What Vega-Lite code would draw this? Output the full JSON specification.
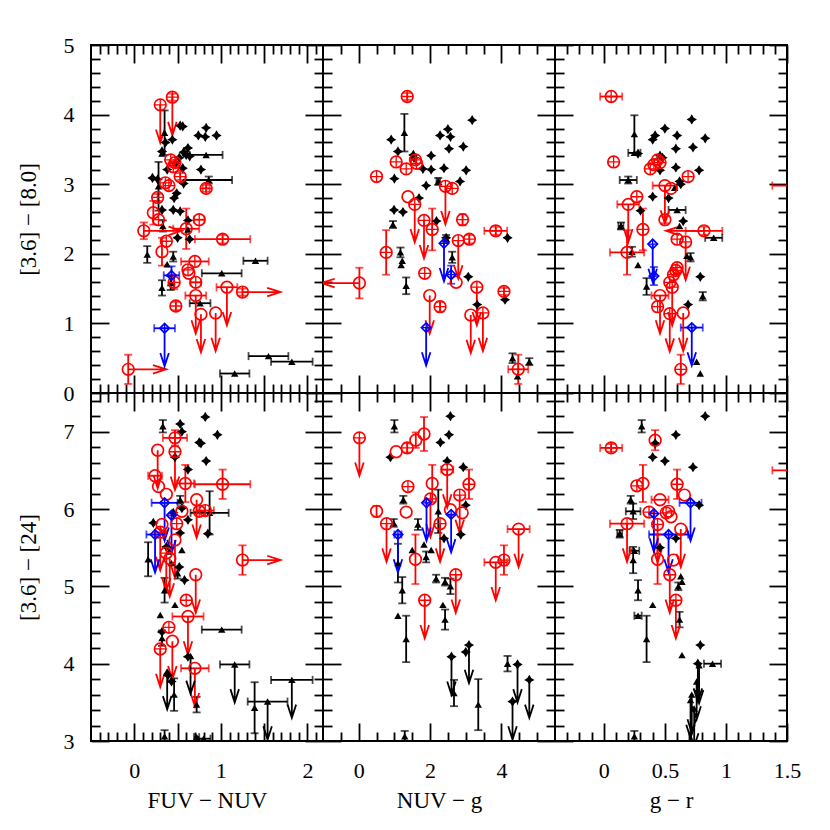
{
"$schema": "https://vega.github.io/schema/vega-lite/v6.json",
"padding": {"left": 16, "top": 33, "right": 10, "bottom": 10},
"background": "white",
"datasets": {
"p1": [
{"x":0.30,"y":4.14,"t":"rp","a":"d"},{"x":0.44,"y":4.25,"ey":0.05,"t":"rp","a":"d"},{"x":0.42,"y":3.35,"t":"rp"},{"x":0.47,"y":3.31,"t":"rp"},{"x":0.45,"y":3.25,"t":"rp"},{"x":0.53,"y":3.11,"ey":0.05,"t":"rp"},{"x":0.36,"y":3.02,"t":"rp"},{"x":0.40,"y":2.98,"t":"rp"},{"x":0.83,"y":2.94,"ex":0.04,"ey":0.05,"t":"rp"},{"x":0.27,"y":2.81,"ey":0.05,"t":"rp"},{"x":0.22,"y":2.59,"ey":0.17,"t":"r"},{"x":0.28,"y":2.49,"t":"rp"},{"x":0.75,"y":2.49,"ex":0.06,"t":"rp"},{"x":0.11,"y":2.33,"ey":0.12,"t":"r","a":"r"},{"x":0.60,"y":2.36,"ex":0.15,"ey":0.29,"t":"r"},{"x":1.02,"y":2.21,"ex":0.32,"ey":0.06,"t":"rp"},{"x":0.37,"y":2.18,"t":"rp"},{"x":0.32,"y":2.03,"ey":0.2,"t":"r"},{"x":0.70,"y":1.89,"ex":0.16,"t":"rp"},{"x":0.62,"y":1.77,"t":"rp"},{"x":0.63,"y":1.72,"t":"r"},{"x":0.46,"y":1.59,"ey":0.1,"t":"rp"},{"x":0.71,"y":1.59,"ex":0.06,"t":"rp"},{"x":1.07,"y":1.52,"ex":0.12,"t":"r","a":"d"},{"x":1.25,"y":1.45,"ey":0.05,"t":"rp","a":"r"},{"x":0.71,"y":1.40,"ex":0.12,"t":"r","a":"d"},{"x":0.48,"y":1.25,"ey":0.06,"t":"rp"},{"x":0.77,"y":1.13,"t":"r","a":"d"},{"x":0.94,"y":1.15,"t":"r","a":"d"},{"x":-0.07,"y":0.34,"ey":0.21,"t":"r","a":"r"},
{"x":0.43,"y":1.69,"ex":0.09,"ey":0.13,"t":"b"},{"x":0.35,"y":0.93,"ex":0.12,"t":"b","a":"d"},
{"x":0.53,"y":3.84,"t":"s"},{"x":0.56,"y":3.83,"t":"s"},{"x":0.83,"y":3.81,"t":"s"},{"x":0.74,"y":3.70,"t":"s"},{"x":0.82,"y":3.68,"t":"s"},{"x":0.95,"y":3.70,"t":"s"},{"x":0.44,"y":3.64,"t":"s"},{"x":0.32,"y":3.47,"t":"s"},{"x":0.62,"y":3.52,"t":"s"},{"x":0.57,"y":3.46,"t":"s"},{"x":0.64,"y":3.40,"t":"s"},{"x":0.52,"y":3.38,"t":"s"},{"x":0.38,"y":3.21,"t":"s"},{"x":0.56,"y":3.23,"t":"s"},{"x":0.77,"y":3.21,"t":"s"},{"x":0.21,"y":3.09,"t":"s"},{"x":0.27,"y":3.07,"t":"s"},{"x":0.57,"y":3.01,"t":"s"},{"x":0.49,"y":2.87,"t":"s"},{"x":0.46,"y":2.80,"t":"s"},{"x":0.32,"y":2.63,"t":"s"},{"x":0.45,"y":2.63,"t":"s"},{"x":0.53,"y":2.61,"t":"s"},{"x":0.62,"y":2.48,"t":"s"},{"x":0.50,"y":2.23,"t":"s"},{"x":0.64,"y":2.21,"t":"s"},{"x":0.60,"y":3.42,"t":"s"},{"x":0.48,"y":3.30,"t":"s"},{"x":0.36,"y":3.60,"t":"s"},
{"x":0.35,"y":3.74,"ey":0.32,"t":"t"},{"x":0.32,"y":3.44,"t":"t"},{"x":0.83,"y":3.42,"ex":0.19,"t":"t"},{"x":0.28,"y":2.97,"ey":0.35,"t":"t"},{"x":0.86,"y":3.06,"ex":0.27,"ey":0.05,"t":"t"},{"x":0.33,"y":2.40,"ey":0.08,"t":"t"},{"x":0.15,"y":1.99,"ey":0.12,"t":"t"},{"x":0.45,"y":1.96,"ey":0.07,"t":"t"},{"x":0.42,"y":1.58,"ey":0.1,"t":"t"},{"x":1.01,"y":1.72,"ex":0.23,"t":"t"},{"x":1.40,"y":1.90,"ex":0.14,"t":"t"},{"x":0.32,"y":1.51,"ey":0.11,"t":"t"},{"x":0.76,"y":1.29,"ex":0.12,"t":"t"},{"x":1.55,"y":0.53,"ex":0.23,"t":"t"},{"x":1.82,"y":0.45,"ex":0.24,"t":"t"},{"x":1.16,"y":0.28,"ex":0.17,"t":"t"},{"x":0.38,"y":1.85,"t":"t"},{"x":0.62,"y":2.35,"t":"t"}
],
"p2": [
{"x":1.36,"y":4.26,"ey":0.05,"t":"rp"},{"x":1.05,"y":3.32,"t":"rp"},{"x":1.33,"y":3.22,"t":"rp"},{"x":1.59,"y":3.35,"t":"rp"},{"x":1.62,"y":3.30,"t":"rp"},{"x":0.50,"y":3.11,"t":"rp"},{"x":2.43,"y":2.97,"t":"rp","a":"d"},{"x":2.62,"y":2.94,"t":"rp"},{"x":1.38,"y":2.82,"t":"r"},{"x":1.57,"y":2.71,"t":"rp","a":"d"},{"x":1.83,"y":2.48,"t":"rp","a":"d"},{"x":2.06,"y":2.35,"ey":0.3,"t":"rp"},{"x":2.91,"y":2.49,"ey":0.08,"t":"rp"},{"x":3.84,"y":2.33,"ex":0.32,"ey":0.06,"t":"rp"},{"x":2.79,"y":2.19,"t":"rp","a":"d"},{"x":3.10,"y":2.21,"ey":0.06,"t":"rp"},{"x":0.77,"y":2.02,"ey":0.32,"t":"rp"},{"x":0.02,"y":1.58,"ey":0.22,"t":"r","a":"l"},{"x":1.85,"y":1.72,"t":"rp"},{"x":2.73,"y":1.59,"t":"r"},{"x":3.31,"y":1.52,"t":"rp","a":"d"},{"x":1.99,"y":1.40,"t":"r","a":"d"},{"x":2.28,"y":1.24,"ey":0.07,"t":"rp"},{"x":3.14,"y":1.12,"t":"r","a":"d"},{"x":3.48,"y":1.15,"t":"rp","a":"d"},{"x":4.07,"y":1.46,"ey":0.05,"t":"rp"},{"x":4.47,"y":0.34,"ex":0.28,"ey":0.21,"t":"rp"},
{"x":2.39,"y":2.15,"t":"b","a":"d"},{"x":2.59,"y":1.70,"ey":0.13,"t":"b"},{"x":1.89,"y":0.94,"t":"b","a":"d"},
{"x":3.18,"y":3.92,"t":"s"},{"x":2.50,"y":3.79,"t":"s"},{"x":2.28,"y":3.70,"t":"s"},{"x":2.57,"y":3.68,"t":"s"},{"x":2.53,"y":3.51,"t":"s"},{"x":2.93,"y":3.54,"t":"s"},{"x":0.91,"y":3.64,"t":"s"},{"x":1.10,"y":3.47,"t":"s"},{"x":1.53,"y":3.42,"t":"s"},{"x":2.03,"y":3.41,"t":"s"},{"x":1.80,"y":3.22,"t":"s"},{"x":2.03,"y":3.21,"t":"s"},{"x":2.39,"y":3.23,"t":"s"},{"x":3.01,"y":3.20,"t":"s"},{"x":2.84,"y":3.04,"t":"s"},{"x":1.89,"y":2.98,"t":"s"},{"x":1.00,"y":3.08,"t":"s"},{"x":1.69,"y":2.80,"t":"s"},{"x":0.99,"y":2.63,"t":"s"},{"x":1.24,"y":2.60,"t":"s"},{"x":2.18,"y":2.47,"t":"s"},{"x":4.17,"y":2.23,"t":"s"},{"x":2.45,"y":2.23,"t":"s"},{"x":3.07,"y":1.67,"t":"s"},{"x":3.32,"y":1.27,"t":"s"},{"x":4.10,"y":1.34,"t":"s"},{"x":1.55,"y":3.38,"t":"s"},
{"x":1.28,"y":3.74,"ey":0.27,"t":"t"},{"x":2.23,"y":3.04,"ex":0.05,"ey":0.05,"t":"t"},{"x":0.96,"y":2.42,"ey":0.05,"t":"t"},{"x":1.17,"y":2.02,"ey":0.07,"t":"t"},{"x":1.19,"y":1.84,"t":"t"},{"x":1.22,"y":1.90,"t":"t"},{"x":1.33,"y":1.54,"ey":0.12,"t":"t"},{"x":2.62,"y":1.95,"ey":0.08,"t":"t"},{"x":2.45,"y":2.22,"ey":0.05,"t":"t"},{"x":4.31,"y":0.50,"ey":0.07,"t":"t"},{"x":4.78,"y":0.45,"ey":0.05,"t":"t"},{"x":4.45,"y":0.24,"t":"t"}
],
"p3": [
{"x":0.06,"y":4.26,"ex":0.09,"t":"rp"},{"x":0.08,"y":3.32,"t":"rp"},{"x":0.44,"y":3.35,"t":"rp"},{"x":0.41,"y":3.28,"t":"rp"},{"x":0.38,"y":3.22,"t":"rp"},{"x":0.46,"y":3.31,"t":"rp"},{"x":0.69,"y":3.11,"t":"rp"},{"x":0.50,"y":2.98,"ex":0.1,"t":"r","a":"d"},{"x":0.55,"y":2.94,"t":"r"},{"x":0.27,"y":2.82,"t":"rp"},{"x":0.20,"y":2.71,"ex":0.09,"t":"r","a":"d"},{"x":0.50,"y":2.49,"ey":0.05,"t":"r"},{"x":0.32,"y":2.35,"ey":0.3,"t":"rp"},{"x":0.82,"y":2.33,"ex":0.15,"ey":0.06,"t":"r","a":"l"},{"x":0.60,"y":2.21,"t":"rp"},{"x":0.67,"y":2.17,"t":"rp","a":"d"},{"x":0.19,"y":2.02,"ex":0.14,"ey":0.32,"t":"r"},{"x":0.59,"y":1.76,"t":"rp"},{"x":0.57,"y":1.70,"t":"rp"},{"x":0.60,"y":1.80,"t":"rp"},{"x":0.54,"y":1.59,"t":"rp"},{"x":0.56,"y":1.52,"t":"rp","a":"d"},{"x":0.46,"y":1.40,"ex":0.07,"t":"r","a":"d"},{"x":0.44,"y":1.24,"t":"rp"},{"x":0.54,"y":1.14,"t":"rp","a":"d"},{"x":0.65,"y":1.15,"t":"r","a":"d"},{"x":0.63,"y":0.34,"ey":0.21,"t":"rp"},{"x":1.62,"y":2.98,"ex":0.24,"t":"r"},
{"x":0.40,"y":2.14,"t":"b","a":"d"},{"x":0.41,"y":1.68,"ey":0.13,"t":"b"},{"x":0.72,"y":0.94,"ex":0.09,"t":"b","a":"d"},
{"x":0.72,"y":3.93,"t":"s"},{"x":0.50,"y":3.80,"t":"s"},{"x":0.60,"y":3.70,"t":"s"},{"x":0.83,"y":3.66,"t":"s"},{"x":0.42,"y":3.70,"t":"s"},{"x":0.40,"y":3.64,"t":"s"},{"x":0.59,"y":3.51,"t":"s"},{"x":0.73,"y":3.53,"t":"s"},{"x":0.46,"y":3.41,"t":"s"},{"x":0.28,"y":3.44,"t":"s"},{"x":0.59,"y":3.24,"t":"s"},{"x":0.46,"y":3.20,"t":"s"},{"x":0.78,"y":3.20,"t":"s"},{"x":0.62,"y":3.04,"t":"s"},{"x":0.40,"y":2.82,"t":"s"},{"x":0.53,"y":2.80,"t":"s"},{"x":0.30,"y":2.62,"t":"s"},{"x":0.65,"y":2.47,"t":"s"},{"x":0.79,"y":1.67,"t":"s"},{"x":0.69,"y":1.27,"t":"s"},{"x":0.63,"y":3.00,"t":"s"},{"x":0.48,"y":3.38,"t":"s"},
{"x":0.25,"y":3.72,"ey":0.27,"t":"t"},{"x":0.25,"y":3.45,"ex":0.05,"t":"t"},{"x":0.20,"y":3.06,"ex":0.07,"ey":0.05,"t":"t"},{"x":0.60,"y":2.63,"ex":0.07,"t":"t"},{"x":0.90,"y":2.23,"ex":0.07,"t":"t"},{"x":0.14,"y":2.40,"ex":0.02,"ey":0.05,"t":"t"},{"x":0.23,"y":2.03,"ey":0.07,"t":"t"},{"x":0.28,"y":1.84,"t":"t"},{"x":0.71,"y":1.95,"ey":0.06,"t":"t"},{"x":0.68,"y":1.97,"t":"t"},{"x":0.35,"y":1.53,"ey":0.12,"t":"t"},{"x":0.81,"y":1.39,"ey":0.06,"t":"t"},{"x":0.76,"y":0.45,"t":"t"},{"x":0.79,"y":0.28,"t":"t"},{"x":0.62,"y":2.40,"t":"t"},{"x":0.58,"y":2.95,"t":"t"}
],
"p4": [
{"x":0.47,"y":6.92,"ex":0.14,"ey":0.1,"t":"rp"},{"x":0.27,"y":6.76,"t":"r","a":"d"},{"x":0.47,"y":6.74,"t":"rp","a":"d"},{"x":0.24,"y":6.43,"ex":0.08,"t":"r"},{"x":0.28,"y":6.29,"t":"r"},{"x":0.59,"y":6.33,"ex":0.1,"ey":0.24,"t":"r"},{"x":1.02,"y":6.32,"ex":0.32,"ey":0.19,"t":"rp"},{"x":0.37,"y":6.19,"t":"r"},{"x":0.72,"y":6.12,"t":"r","a":"d"},{"x":0.55,"y":5.97,"t":"r"},{"x":0.75,"y":5.97,"t":"rp"},{"x":0.82,"y":5.98,"ex":0.1,"t":"rp"},{"x":0.32,"y":5.80,"t":"r"},{"x":0.49,"y":5.81,"t":"rp"},{"x":0.37,"y":5.43,"t":"rp","a":"d"},{"x":0.41,"y":5.36,"t":"r","a":"d"},{"x":0.30,"y":5.70,"t":"rp","a":"d"},{"x":1.25,"y":5.34,"ey":0.19,"t":"r","a":"r"},{"x":0.71,"y":5.15,"t":"r","a":"d"},{"x":0.60,"y":4.82,"t":"rp"},{"x":0.62,"y":4.61,"ex":0.18,"t":"r","a":"d"},{"x":0.40,"y":4.47,"t":"rp"},{"x":0.44,"y":4.29,"t":"r","a":"d"},{"x":0.30,"y":4.19,"t":"rp","a":"d"},{"x":0.70,"y":3.94,"ex":0.16,"t":"r","a":"d"},{"x":0.47,"y":5.60,"t":"r","a":"d"},
{"x":0.35,"y":6.08,"ex":0.15,"t":"b","a":"d"},{"x":0.43,"y":5.92,"t":"b","a":"d"},{"x":0.24,"y":5.67,"ex":0.1,"t":"b","a":"d"},
{"x":0.82,"y":7.19,"t":"s"},{"x":0.53,"y":7.10,"t":"s"},{"x":0.55,"y":7.00,"t":"s"},{"x":0.96,"y":6.96,"t":"s"},{"x":0.75,"y":6.86,"t":"s"},{"x":0.77,"y":6.85,"t":"s"},{"x":0.47,"y":6.67,"t":"s"},{"x":0.83,"y":6.62,"t":"s"},{"x":0.62,"y":6.51,"t":"s"},{"x":0.55,"y":6.01,"t":"s"},{"x":0.62,"y":5.86,"t":"s"},{"x":0.22,"y":5.82,"t":"s"},{"x":0.53,"y":5.69,"t":"s"},{"x":0.85,"y":5.68,"t":"s"},{"x":0.37,"y":5.51,"t":"s"},{"x":0.58,"y":5.08,"t":"s"},{"x":0.32,"y":4.41,"t":"s"},{"x":0.62,"y":4.09,"t":"s"},{"x":0.39,"y":3.85,"t":"s"},{"x":0.43,"y":3.77,"t":"s"},{"x":0.45,"y":5.95,"t":"s"},{"x":0.52,"y":5.25,"t":"s"},
{"x":0.33,"y":7.07,"ey":0.08,"t":"t"},{"x":0.53,"y":6.12,"ey":0.05,"t":"t"},{"x":0.87,"y":5.95,"ex":0.22,"ey":0.28,"t":"t"},{"x":0.16,"y":5.35,"ey":0.22,"t":"t"},{"x":0.55,"y":5.47,"t":"t"},{"x":0.50,"y":5.17,"ey":0.07,"t":"t"},{"x":0.35,"y":4.95,"ey":0.16,"t":"t"},{"x":0.47,"y":4.76,"t":"t"},{"x":0.30,"y":4.63,"t":"t"},{"x":0.32,"y":4.33,"ey":0.1,"t":"t"},{"x":1.01,"y":4.44,"ex":0.23,"t":"t"},{"x":1.16,"y":3.99,"ex":0.17,"t":"t","a":"d"},{"x":1.82,"y":3.79,"ex":0.24,"t":"t","a":"d"},{"x":1.39,"y":3.43,"ey":0.33,"t":"t"},{"x":1.54,"y":3.51,"ex":0.23,"t":"t","a":"d"},{"x":0.46,"y":3.60,"ey":0.21,"t":"t"},{"x":0.35,"y":3.06,"ey":0.08,"t":"t"},{"x":0.72,"y":3.47,"ey":0.1,"t":"t"},{"x":0.72,"y":3.05,"ex":0.03,"t":"t"},{"x":0.80,"y":3.03,"ex":0.08,"t":"t"},{"x":0.40,"y":5.45,"t":"t"},{"x":0.43,"y":5.30,"t":"t"},{"x":0.38,"y":3.90,"t":"t","a":"d"},{"x":0.65,"y":4.10,"t":"t","a":"d"}
],
"p5": [
{"x":0.02,"y":6.92,"t":"rp","a":"d"},{"x":1.05,"y":6.74,"t":"r"},{"x":1.36,"y":6.79,"ey":0.06,"t":"rp"},{"x":1.60,"y":6.89,"ey":0.1,"t":"r"},{"x":1.83,"y":6.97,"ey":0.22,"t":"r"},{"x":2.48,"y":6.51,"ex":0.17,"t":"rp","a":"d"},{"x":1.38,"y":6.29,"t":"rp"},{"x":2.06,"y":6.33,"ey":0.24,"t":"r"},{"x":3.09,"y":6.32,"ey":0.19,"t":"rp"},{"x":2.83,"y":6.18,"t":"rp","a":"d"},{"x":2.01,"y":6.13,"t":"rp","a":"d"},{"x":1.33,"y":5.96,"t":"r"},{"x":0.50,"y":5.97,"ey":0.07,"t":"r"},{"x":2.57,"y":5.99,"t":"r"},{"x":2.90,"y":5.95,"t":"r"},{"x":0.78,"y":5.81,"t":"rp","a":"d"},{"x":2.28,"y":5.81,"t":"rp","a":"d"},{"x":4.48,"y":5.74,"ex":0.31,"t":"r","a":"d"},{"x":1.59,"y":5.35,"ey":0.32,"t":"r"},{"x":3.84,"y":5.31,"ex":0.32,"t":"r","a":"d"},{"x":4.07,"y":5.34,"ey":0.19,"t":"rp"},{"x":2.72,"y":5.15,"t":"rp","a":"d"},{"x":1.85,"y":4.82,"t":"rp","a":"d"},
{"x":1.90,"y":6.08,"t":"b","a":"d"},{"x":2.59,"y":5.93,"t":"b","a":"d"},{"x":1.10,"y":5.67,"ex":0.1,"t":"b","a":"d"},
{"x":2.57,"y":7.20,"t":"s"},{"x":2.53,"y":6.96,"t":"s"},{"x":2.29,"y":6.86,"t":"s"},{"x":0.89,"y":6.67,"t":"s"},{"x":2.48,"y":6.62,"t":"s"},{"x":2.93,"y":6.54,"t":"s"},{"x":3.00,"y":6.05,"t":"s"},{"x":2.86,"y":5.67,"t":"s"},{"x":2.39,"y":5.62,"t":"s"},{"x":2.60,"y":4.09,"t":"s","a":"d"},{"x":3.09,"y":4.24,"t":"s","a":"d"},{"x":4.45,"y":3.99,"t":"s","a":"d"},{"x":4.78,"y":3.79,"t":"s","a":"d"},{"x":4.31,"y":3.51,"t":"s","a":"d"},{"x":3.00,"y":4.15,"t":"s"},
{"x":1.00,"y":7.07,"ey":0.08,"t":"t"},{"x":1.25,"y":6.12,"ey":0.05,"t":"t"},{"x":0.98,"y":5.82,"ey":0.05,"t":"t"},{"x":1.66,"y":5.80,"ey":0.07,"t":"t"},{"x":2.23,"y":5.97,"ey":0.28,"t":"t"},{"x":1.50,"y":5.47,"t":"t"},{"x":1.83,"y":5.54,"t":"t"},{"x":2.03,"y":5.47,"t":"t"},{"x":1.89,"y":5.38,"ey":0.07,"t":"t"},{"x":1.22,"y":4.95,"ey":0.17,"t":"t"},{"x":2.17,"y":5.10,"ey":0.05,"t":"t"},{"x":2.42,"y":5.06,"ey":0.05,"t":"t"},{"x":2.57,"y":5.00,"ey":0.1,"t":"t"},{"x":2.36,"y":4.76,"t":"t"},{"x":2.42,"y":4.57,"ey":0.13,"t":"t"},{"x":1.10,"y":4.62,"t":"t"},{"x":1.33,"y":4.32,"ey":0.3,"t":"t"},{"x":4.17,"y":4.00,"ey":0.1,"t":"t"},{"x":2.67,"y":3.62,"ey":0.17,"t":"t"},{"x":3.35,"y":3.47,"ey":0.33,"t":"t"},{"x":1.29,"y":3.06,"ey":0.07,"t":"t"},{"x":1.10,"y":5.30,"ey":0.25,"t":"t"}
],
"p6": [
{"x":0.06,"y":6.79,"ex":0.09,"ey":0.05,"t":"rp"},{"x":0.42,"y":6.89,"ey":0.13,"t":"r"},{"x":0.32,"y":6.33,"ey":0.24,"t":"r"},{"x":0.27,"y":6.30,"t":"rp"},{"x":0.60,"y":6.32,"ey":0.19,"t":"rp"},{"x":0.66,"y":6.18,"t":"r"},{"x":0.46,"y":6.12,"ex":0.07,"t":"r"},{"x":0.53,"y":5.97,"t":"r"},{"x":0.51,"y":5.95,"t":"rp"},{"x":0.55,"y":5.90,"t":"r"},{"x":0.37,"y":5.96,"t":"rp"},{"x":0.19,"y":5.81,"ex":0.14,"t":"rp","a":"d"},{"x":0.44,"y":5.80,"t":"rp","a":"d"},{"x":0.63,"y":5.74,"t":"r","a":"d"},{"x":0.44,"y":5.35,"ey":0.32,"t":"r"},{"x":0.57,"y":5.34,"t":"r"},{"x":0.54,"y":5.15,"t":"rp","a":"d"},{"x":0.59,"y":4.82,"t":"rp","a":"d"},{"x":1.62,"y":6.50,"ex":0.24,"t":"r"},
{"x":0.41,"y":5.94,"t":"b","a":"d"},{"x":0.71,"y":6.08,"ex":0.09,"t":"b","a":"d"},{"x":0.53,"y":5.67,"ex":0.16,"t":"b","a":"d"},
{"x":0.83,"y":7.20,"t":"s"},{"x":0.59,"y":6.96,"t":"s"},{"x":0.40,"y":6.67,"t":"s"},{"x":0.50,"y":6.62,"t":"s"},{"x":0.73,"y":6.54,"t":"s"},{"x":0.78,"y":6.05,"t":"s"},{"x":0.59,"y":5.62,"t":"s"},{"x":0.79,"y":4.24,"t":"s"},{"x":0.77,"y":4.00,"t":"s","a":"d"},{"x":0.42,"y":6.85,"t":"s"},{"x":0.46,"y":5.50,"t":"s"},
{"x":0.31,"y":7.07,"ey":0.08,"t":"t"},{"x":0.22,"y":6.12,"ey":0.05,"t":"t"},{"x":0.24,"y":5.97,"ex":0.06,"ey":0.1,"t":"t"},{"x":0.13,"y":5.68,"ex":0.02,"ey":0.05,"t":"t"},{"x":0.25,"y":5.46,"ex":0.04,"t":"t"},{"x":0.24,"y":5.34,"ey":0.17,"t":"t"},{"x":0.28,"y":4.95,"ey":0.13,"t":"t"},{"x":0.28,"y":4.62,"ex":0.03,"t":"t"},{"x":0.40,"y":4.76,"t":"t"},{"x":0.63,"y":5.13,"t":"t"},{"x":0.64,"y":5.06,"t":"t"},{"x":0.61,"y":5.00,"ey":0.05,"t":"t"},{"x":0.62,"y":4.57,"ey":0.1,"t":"t"},{"x":0.35,"y":4.32,"ey":0.3,"t":"t"},{"x":0.64,"y":4.11,"t":"t"},{"x":0.89,"y":4.00,"ex":0.07,"t":"t"},{"x":0.78,"y":3.98,"t":"t","a":"d"},{"x":0.76,"y":3.77,"t":"t","a":"d"},{"x":0.71,"y":3.53,"t":"t","a":"d"},{"x":0.74,"y":3.42,"t":"t","a":"d"},{"x":0.72,"y":3.60,"t":"t","a":"d"},{"x":0.25,"y":3.06,"ey":0.07,"t":"t"}
]
},
"columns": 3,
"spacing": 0,
"bounds": "flush",
"concat": [
{"width":232,"height":348,"data":{"name":"p1"},
 "encoding":{"x":{"field":"x","type":"quantitative","scale":{"domain":[-0.5,2.18],"nice":false,"zero":false},"axis":null},"y":{"field":"y","type":"quantitative","scale":{"domain":[0,5],"nice":false,"zero":false},"axis":null}},
 "layer":[
  {"mark":{"type":"point","opacity":0},"encoding":{"x":{"field":"x","type":"quantitative","scale":{"domain":[-0.5,2.18],"nice":false,"zero":false},"axis":{"orient":"bottom","values":[0,0.5,1,1.5,2],"tickSize":-18,"labels":false,"title":null}},"y":{"field":"y","type":"quantitative","scale":{"domain":[0,5],"nice":false,"zero":false},"axis":{"orient":"left","values":[0,1,2,3,4,5],"tickSize":-18,"labelPadding":35,"format":"~g","title":"[3.6] − [8.0]","titlePadding":23}}}},
  {"mark":{"type":"point","opacity":0},"encoding":{"x":{"field":"x","type":"quantitative","scale":{"domain":[-0.5,2.18],"nice":false,"zero":false},"axis":{"orient":"bottom","values":[-0.4,-0.3,-0.2,-0.1,0.1,0.2,0.3,0.4,0.6,0.7,0.8,0.9,1.1,1.2,1.3,1.4,1.6,1.7,1.8,1.9,2.1],"tickSize":-9,"labels":false,"title":null}},"y":{"field":"y","type":"quantitative","scale":{"domain":[0,5],"nice":false,"zero":false},"axis":{"orient":"left","values":[0.2,0.4,0.6,0.8,1.2,1.4,1.6,1.8,2.2,2.4,2.6,2.8,3.2,3.4,3.6,3.8,4.2,4.4,4.6,4.8],"tickSize":-9,"labels":false,"title":null}}}},
  {"mark":{"type":"point","opacity":0},"encoding":{"x":{"field":"x","type":"quantitative","scale":{"domain":[-0.5,2.18],"nice":false,"zero":false},"axis":{"orient":"top","values":[0,0.5,1,1.5,2],"tickSize":-18,"labels":false,"title":null}},"y":{"field":"y","type":"quantitative","scale":{"domain":[0,5],"nice":false,"zero":false},"axis":{"orient":"right","values":[0,1,2,3,4,5],"tickSize":-18,"labels":false,"title":null}}}},
  {"mark":{"type":"point","opacity":0},"encoding":{"x":{"field":"x","type":"quantitative","scale":{"domain":[-0.5,2.18],"nice":false,"zero":false},"axis":{"orient":"top","values":[-0.4,-0.3,-0.2,-0.1,0.1,0.2,0.3,0.4,0.6,0.7,0.8,0.9,1.1,1.2,1.3,1.4,1.6,1.7,1.8,1.9,2.1],"tickSize":-9,"labels":false,"title":null}},"y":{"field":"y","type":"quantitative","scale":{"domain":[0,5],"nice":false,"zero":false},"axis":{"orient":"right","values":[0.2,0.4,0.6,0.8,1.2,1.4,1.6,1.8,2.2,2.4,2.6,2.8,3.2,3.4,3.6,3.8,4.2,4.4,4.6,4.8],"tickSize":-9,"labels":false,"title":null}}}},
  {"transform":[{"filter":"datum.ex>0"}],"mark":{"type":"errorbar","ticks":{"size":8},"thickness":1.8,"clip":true},"encoding":{"xError":{"field":"ex"},"color":{"field":"t","type":"nominal","scale":{"domain":["s","t","r","rp","b"],"range":["black","black","red","red","blue"]},"legend":null}}},
  {"transform":[{"filter":"datum.ey>0"}],"mark":{"type":"errorbar","ticks":{"size":8},"thickness":1.8,"clip":true},"encoding":{"yError":{"field":"ey"},"color":{"field":"t","type":"nominal","scale":{"domain":["s","t","r","rp","b"],"range":["black","black","red","red","blue"]},"legend":null}}},
  {"transform":[{"filter":"datum.a"}],"mark":{"type":"point","filled":false,"strokeWidth":1.8,"size":361,"opacity":1,"clip":true},"encoding":{"shape":{"field":"a","type":"nominal","scale":{"domain":["d","r","l"],"range":["M0,0L0,4M-0.45,2.6L0,4L0.45,2.6","M0,0L4,0M2.6,-0.45L4,0L2.6,0.45","M0,0L-4,0M-2.6,-0.45L-4,0L-2.6,0.45"]},"legend":null},"stroke":{"field":"t","type":"nominal","scale":{"domain":["s","t","r","rp","b"],"range":["black","black","red","red","blue"]},"legend":null}}},
  {"transform":[{"filter":"datum.t=='s'"}],"mark":{"type":"point","shape":"M0,-1L0.38,-0.38L1,0L0.38,0.38L0,1L-0.38,0.38L-1,0L-0.38,-0.38Z","filled":true,"color":"black","size":105,"opacity":1,"clip":true}},
  {"transform":[{"filter":"datum.t=='t'"}],"mark":{"type":"point","shape":"triangle-up","filled":true,"color":"black","size":55,"opacity":1,"clip":true}},
  {"transform":[{"filter":"datum.t=='r'||datum.t=='rp'"}],"mark":{"type":"point","shape":"circle","filled":false,"color":"red","strokeWidth":1.7,"size":135,"opacity":1,"clip":true}},
  {"transform":[{"filter":"datum.t=='rp'"}],"mark":{"type":"point","shape":"M-1,0L1,0M0,-1L0,1","filled":false,"color":"red","strokeWidth":1.3,"size":135,"opacity":1,"clip":true}},
  {"transform":[{"filter":"datum.t=='b'"}],"mark":{"type":"point","shape":"diamond","filled":false,"color":"blue","strokeWidth":1.7,"size":90,"opacity":1,"clip":true}},
  {"transform":[{"filter":"datum.t=='b'"}],"mark":{"type":"point","shape":"M-1,0L1,0M0,-1L0,1","filled":false,"color":"blue","strokeWidth":1.3,"size":60,"opacity":1,"clip":true}}
 ],
 "resolve":{"axis":{"x":"independent","y":"independent"}}
},
{"width":232,"height":348,"data":{"name":"p2"},
 "encoding":{"x":{"field":"x","type":"quantitative","scale":{"domain":[-1,5.5],"nice":false,"zero":false},"axis":null},"y":{"field":"y","type":"quantitative","scale":{"domain":[0,5],"nice":false,"zero":false},"axis":null}},
 "layer":[
  {"mark":{"type":"point","opacity":0},"encoding":{"x":{"field":"x","type":"quantitative","scale":{"domain":[-1,5.5],"nice":false,"zero":false},"axis":{"orient":"bottom","values":[0,2,4],"tickSize":-18,"labels":false,"title":null}},"y":{"field":"y","type":"quantitative","scale":{"domain":[0,5],"nice":false,"zero":false},"axis":{"orient":"left","values":[0,1,2,3,4,5],"tickSize":-18,"labels":false,"title":null}}}},
  {"mark":{"type":"point","opacity":0},"encoding":{"x":{"field":"x","type":"quantitative","scale":{"domain":[-1,5.5],"nice":false,"zero":false},"axis":{"orient":"bottom","values":[-0.5,0.5,1,1.5,2.5,3,3.5,4.5,5],"tickSize":-9,"labels":false,"title":null}},"y":{"field":"y","type":"quantitative","scale":{"domain":[0,5],"nice":false,"zero":false},"axis":{"orient":"left","values":[0.2,0.4,0.6,0.8,1.2,1.4,1.6,1.8,2.2,2.4,2.6,2.8,3.2,3.4,3.6,3.8,4.2,4.4,4.6,4.8],"tickSize":-9,"labels":false,"title":null}}}},
  {"mark":{"type":"point","opacity":0},"encoding":{"x":{"field":"x","type":"quantitative","scale":{"domain":[-1,5.5],"nice":false,"zero":false},"axis":{"orient":"top","values":[0,2,4],"tickSize":-18,"labels":false,"title":null}},"y":{"field":"y","type":"quantitative","scale":{"domain":[0,5],"nice":false,"zero":false},"axis":{"orient":"right","values":[0,1,2,3,4,5],"tickSize":-18,"labels":false,"title":null}}}},
  {"mark":{"type":"point","opacity":0},"encoding":{"x":{"field":"x","type":"quantitative","scale":{"domain":[-1,5.5],"nice":false,"zero":false},"axis":{"orient":"top","values":[-0.5,0.5,1,1.5,2.5,3,3.5,4.5,5],"tickSize":-9,"labels":false,"title":null}},"y":{"field":"y","type":"quantitative","scale":{"domain":[0,5],"nice":false,"zero":false},"axis":{"orient":"right","values":[0.2,0.4,0.6,0.8,1.2,1.4,1.6,1.8,2.2,2.4,2.6,2.8,3.2,3.4,3.6,3.8,4.2,4.4,4.6,4.8],"tickSize":-9,"labels":false,"title":null}}}},
  {"transform":[{"filter":"datum.ex>0"}],"mark":{"type":"errorbar","ticks":{"size":8},"thickness":1.8,"clip":true},"encoding":{"xError":{"field":"ex"},"color":{"field":"t","type":"nominal","scale":{"domain":["s","t","r","rp","b"],"range":["black","black","red","red","blue"]},"legend":null}}},
  {"transform":[{"filter":"datum.ey>0"}],"mark":{"type":"errorbar","ticks":{"size":8},"thickness":1.8,"clip":true},"encoding":{"yError":{"field":"ey"},"color":{"field":"t","type":"nominal","scale":{"domain":["s","t","r","rp","b"],"range":["black","black","red","red","blue"]},"legend":null}}},
  {"transform":[{"filter":"datum.a"}],"mark":{"type":"point","filled":false,"strokeWidth":1.8,"size":361,"opacity":1,"clip":true},"encoding":{"shape":{"field":"a","type":"nominal","scale":{"domain":["d","r","l"],"range":["M0,0L0,4M-0.45,2.6L0,4L0.45,2.6","M0,0L4,0M2.6,-0.45L4,0L2.6,0.45","M0,0L-4,0M-2.6,-0.45L-4,0L-2.6,0.45"]},"legend":null},"stroke":{"field":"t","type":"nominal","scale":{"domain":["s","t","r","rp","b"],"range":["black","black","red","red","blue"]},"legend":null}}},
  {"transform":[{"filter":"datum.t=='s'"}],"mark":{"type":"point","shape":"M0,-1L0.38,-0.38L1,0L0.38,0.38L0,1L-0.38,0.38L-1,0L-0.38,-0.38Z","filled":true,"color":"black","size":105,"opacity":1,"clip":true}},
  {"transform":[{"filter":"datum.t=='t'"}],"mark":{"type":"point","shape":"triangle-up","filled":true,"color":"black","size":55,"opacity":1,"clip":true}},
  {"transform":[{"filter":"datum.t=='r'||datum.t=='rp'"}],"mark":{"type":"point","shape":"circle","filled":false,"color":"red","strokeWidth":1.7,"size":135,"opacity":1,"clip":true}},
  {"transform":[{"filter":"datum.t=='rp'"}],"mark":{"type":"point","shape":"M-1,0L1,0M0,-1L0,1","filled":false,"color":"red","strokeWidth":1.3,"size":135,"opacity":1,"clip":true}},
  {"transform":[{"filter":"datum.t=='b'"}],"mark":{"type":"point","shape":"diamond","filled":false,"color":"blue","strokeWidth":1.7,"size":90,"opacity":1,"clip":true}},
  {"transform":[{"filter":"datum.t=='b'"}],"mark":{"type":"point","shape":"M-1,0L1,0M0,-1L0,1","filled":false,"color":"blue","strokeWidth":1.3,"size":60,"opacity":1,"clip":true}}
 ],
 "resolve":{"axis":{"x":"independent","y":"independent"}}
},
{"width":232,"height":348,"data":{"name":"p3"},
 "encoding":{"x":{"field":"x","type":"quantitative","scale":{"domain":[-0.4,1.5],"nice":false,"zero":false},"axis":null},"y":{"field":"y","type":"quantitative","scale":{"domain":[0,5],"nice":false,"zero":false},"axis":null}},
 "layer":[
  {"mark":{"type":"point","opacity":0},"encoding":{"x":{"field":"x","type":"quantitative","scale":{"domain":[-0.4,1.5],"nice":false,"zero":false},"axis":{"orient":"bottom","values":[0,0.5,1,1.5],"tickSize":-18,"labels":false,"title":null}},"y":{"field":"y","type":"quantitative","scale":{"domain":[0,5],"nice":false,"zero":false},"axis":{"orient":"left","values":[0,1,2,3,4,5],"tickSize":-18,"labels":false,"title":null}}}},
  {"mark":{"type":"point","opacity":0},"encoding":{"x":{"field":"x","type":"quantitative","scale":{"domain":[-0.4,1.5],"nice":false,"zero":false},"axis":{"orient":"bottom","values":[-0.3,-0.2,-0.1,0.1,0.2,0.3,0.4,0.6,0.7,0.8,0.9,1.1,1.2,1.3,1.4],"tickSize":-9,"labels":false,"title":null}},"y":{"field":"y","type":"quantitative","scale":{"domain":[0,5],"nice":false,"zero":false},"axis":{"orient":"left","values":[0.2,0.4,0.6,0.8,1.2,1.4,1.6,1.8,2.2,2.4,2.6,2.8,3.2,3.4,3.6,3.8,4.2,4.4,4.6,4.8],"tickSize":-9,"labels":false,"title":null}}}},
  {"mark":{"type":"point","opacity":0},"encoding":{"x":{"field":"x","type":"quantitative","scale":{"domain":[-0.4,1.5],"nice":false,"zero":false},"axis":{"orient":"top","values":[0,0.5,1,1.5],"tickSize":-18,"labels":false,"title":null}},"y":{"field":"y","type":"quantitative","scale":{"domain":[0,5],"nice":false,"zero":false},"axis":{"orient":"right","values":[0,1,2,3,4,5],"tickSize":-18,"labels":false,"title":null}}}},
  {"mark":{"type":"point","opacity":0},"encoding":{"x":{"field":"x","type":"quantitative","scale":{"domain":[-0.4,1.5],"nice":false,"zero":false},"axis":{"orient":"top","values":[-0.3,-0.2,-0.1,0.1,0.2,0.3,0.4,0.6,0.7,0.8,0.9,1.1,1.2,1.3,1.4],"tickSize":-9,"labels":false,"title":null}},"y":{"field":"y","type":"quantitative","scale":{"domain":[0,5],"nice":false,"zero":false},"axis":{"orient":"right","values":[0.2,0.4,0.6,0.8,1.2,1.4,1.6,1.8,2.2,2.4,2.6,2.8,3.2,3.4,3.6,3.8,4.2,4.4,4.6,4.8],"tickSize":-9,"labels":false,"title":null}}}},
  {"transform":[{"filter":"datum.ex>0"}],"mark":{"type":"errorbar","ticks":{"size":8},"thickness":1.8,"clip":true},"encoding":{"xError":{"field":"ex"},"color":{"field":"t","type":"nominal","scale":{"domain":["s","t","r","rp","b"],"range":["black","black","red","red","blue"]},"legend":null}}},
  {"transform":[{"filter":"datum.ey>0"}],"mark":{"type":"errorbar","ticks":{"size":8},"thickness":1.8,"clip":true},"encoding":{"yError":{"field":"ey"},"color":{"field":"t","type":"nominal","scale":{"domain":["s","t","r","rp","b"],"range":["black","black","red","red","blue"]},"legend":null}}},
  {"transform":[{"filter":"datum.a"}],"mark":{"type":"point","filled":false,"strokeWidth":1.8,"size":361,"opacity":1,"clip":true},"encoding":{"shape":{"field":"a","type":"nominal","scale":{"domain":["d","r","l"],"range":["M0,0L0,4M-0.45,2.6L0,4L0.45,2.6","M0,0L4,0M2.6,-0.45L4,0L2.6,0.45","M0,0L-4,0M-2.6,-0.45L-4,0L-2.6,0.45"]},"legend":null},"stroke":{"field":"t","type":"nominal","scale":{"domain":["s","t","r","rp","b"],"range":["black","black","red","red","blue"]},"legend":null}}},
  {"transform":[{"filter":"datum.t=='s'"}],"mark":{"type":"point","shape":"M0,-1L0.38,-0.38L1,0L0.38,0.38L0,1L-0.38,0.38L-1,0L-0.38,-0.38Z","filled":true,"color":"black","size":105,"opacity":1,"clip":true}},
  {"transform":[{"filter":"datum.t=='t'"}],"mark":{"type":"point","shape":"triangle-up","filled":true,"color":"black","size":55,"opacity":1,"clip":true}},
  {"transform":[{"filter":"datum.t=='r'||datum.t=='rp'"}],"mark":{"type":"point","shape":"circle","filled":false,"color":"red","strokeWidth":1.7,"size":135,"opacity":1,"clip":true}},
  {"transform":[{"filter":"datum.t=='rp'"}],"mark":{"type":"point","shape":"M-1,0L1,0M0,-1L0,1","filled":false,"color":"red","strokeWidth":1.3,"size":135,"opacity":1,"clip":true}},
  {"transform":[{"filter":"datum.t=='b'"}],"mark":{"type":"point","shape":"diamond","filled":false,"color":"blue","strokeWidth":1.7,"size":90,"opacity":1,"clip":true}},
  {"transform":[{"filter":"datum.t=='b'"}],"mark":{"type":"point","shape":"M-1,0L1,0M0,-1L0,1","filled":false,"color":"blue","strokeWidth":1.3,"size":60,"opacity":1,"clip":true}}
 ],
 "resolve":{"axis":{"x":"independent","y":"independent"}}
},
{"width":232,"height":348,"data":{"name":"p4"},
 "encoding":{"x":{"field":"x","type":"quantitative","scale":{"domain":[-0.5,2.18],"nice":false,"zero":false},"axis":null},"y":{"field":"y","type":"quantitative","scale":{"domain":[3,7.5],"nice":false,"zero":false},"axis":null}},
 "layer":[
  {"mark":{"type":"point","opacity":0},"encoding":{"x":{"field":"x","type":"quantitative","scale":{"domain":[-0.5,2.18],"nice":false,"zero":false},"axis":{"orient":"bottom","values":[0,0.5,1,1.5,2],"tickSize":-18,"labelPadding":37,"format":"~g","labelExpr":"datum.value % 1 === 0 ? datum.label : ''","title":"FUV − NUV","titlePadding":8}},"y":{"field":"y","type":"quantitative","scale":{"domain":[3,7.5],"nice":false,"zero":false},"axis":{"orient":"left","values":[3,4,5,6,7],"tickSize":-18,"labelPadding":35,"format":"~g","title":"[3.6] − [24]","titlePadding":23}}}},
  {"mark":{"type":"point","opacity":0},"encoding":{"x":{"field":"x","type":"quantitative","scale":{"domain":[-0.5,2.18],"nice":false,"zero":false},"axis":{"orient":"bottom","values":[-0.4,-0.3,-0.2,-0.1,0.1,0.2,0.3,0.4,0.6,0.7,0.8,0.9,1.1,1.2,1.3,1.4,1.6,1.7,1.8,1.9,2.1],"tickSize":-9,"labels":false,"title":null}},"y":{"field":"y","type":"quantitative","scale":{"domain":[3,7.5],"nice":false,"zero":false},"axis":{"orient":"left","values":[3.2,3.4,3.6,3.8,4.2,4.4,4.6,4.8,5.2,5.4,5.6,5.8,6.2,6.4,6.6,6.8,7.2,7.4],"tickSize":-9,"labels":false,"title":null}}}},
  {"mark":{"type":"point","opacity":0},"encoding":{"x":{"field":"x","type":"quantitative","scale":{"domain":[-0.5,2.18],"nice":false,"zero":false},"axis":{"orient":"top","values":[0,0.5,1,1.5,2],"tickSize":-18,"labels":false,"title":null}},"y":{"field":"y","type":"quantitative","scale":{"domain":[3,7.5],"nice":false,"zero":false},"axis":{"orient":"right","values":[3,4,5,6,7],"tickSize":-18,"labels":false,"title":null}}}},
  {"mark":{"type":"point","opacity":0},"encoding":{"x":{"field":"x","type":"quantitative","scale":{"domain":[-0.5,2.18],"nice":false,"zero":false},"axis":{"orient":"top","values":[-0.4,-0.3,-0.2,-0.1,0.1,0.2,0.3,0.4,0.6,0.7,0.8,0.9,1.1,1.2,1.3,1.4,1.6,1.7,1.8,1.9,2.1],"tickSize":-9,"labels":false,"title":null}},"y":{"field":"y","type":"quantitative","scale":{"domain":[3,7.5],"nice":false,"zero":false},"axis":{"orient":"right","values":[3.2,3.4,3.6,3.8,4.2,4.4,4.6,4.8,5.2,5.4,5.6,5.8,6.2,6.4,6.6,6.8,7.2,7.4],"tickSize":-9,"labels":false,"title":null}}}},
  {"transform":[{"filter":"datum.ex>0"}],"mark":{"type":"errorbar","ticks":{"size":8},"thickness":1.8,"clip":true},"encoding":{"xError":{"field":"ex"},"color":{"field":"t","type":"nominal","scale":{"domain":["s","t","r","rp","b"],"range":["black","black","red","red","blue"]},"legend":null}}},
  {"transform":[{"filter":"datum.ey>0"}],"mark":{"type":"errorbar","ticks":{"size":8},"thickness":1.8,"clip":true},"encoding":{"yError":{"field":"ey"},"color":{"field":"t","type":"nominal","scale":{"domain":["s","t","r","rp","b"],"range":["black","black","red","red","blue"]},"legend":null}}},
  {"transform":[{"filter":"datum.a"}],"mark":{"type":"point","filled":false,"strokeWidth":1.8,"size":361,"opacity":1,"clip":true},"encoding":{"shape":{"field":"a","type":"nominal","scale":{"domain":["d","r","l"],"range":["M0,0L0,4M-0.45,2.6L0,4L0.45,2.6","M0,0L4,0M2.6,-0.45L4,0L2.6,0.45","M0,0L-4,0M-2.6,-0.45L-4,0L-2.6,0.45"]},"legend":null},"stroke":{"field":"t","type":"nominal","scale":{"domain":["s","t","r","rp","b"],"range":["black","black","red","red","blue"]},"legend":null}}},
  {"transform":[{"filter":"datum.t=='s'"}],"mark":{"type":"point","shape":"M0,-1L0.38,-0.38L1,0L0.38,0.38L0,1L-0.38,0.38L-1,0L-0.38,-0.38Z","filled":true,"color":"black","size":105,"opacity":1,"clip":true}},
  {"transform":[{"filter":"datum.t=='t'"}],"mark":{"type":"point","shape":"triangle-up","filled":true,"color":"black","size":55,"opacity":1,"clip":true}},
  {"transform":[{"filter":"datum.t=='r'||datum.t=='rp'"}],"mark":{"type":"point","shape":"circle","filled":false,"color":"red","strokeWidth":1.7,"size":135,"opacity":1,"clip":true}},
  {"transform":[{"filter":"datum.t=='rp'"}],"mark":{"type":"point","shape":"M-1,0L1,0M0,-1L0,1","filled":false,"color":"red","strokeWidth":1.3,"size":135,"opacity":1,"clip":true}},
  {"transform":[{"filter":"datum.t=='b'"}],"mark":{"type":"point","shape":"diamond","filled":false,"color":"blue","strokeWidth":1.7,"size":90,"opacity":1,"clip":true}},
  {"transform":[{"filter":"datum.t=='b'"}],"mark":{"type":"point","shape":"M-1,0L1,0M0,-1L0,1","filled":false,"color":"blue","strokeWidth":1.3,"size":60,"opacity":1,"clip":true}}
 ],
 "resolve":{"axis":{"x":"independent","y":"independent"}}
},
{"width":232,"height":348,"data":{"name":"p5"},
 "encoding":{"x":{"field":"x","type":"quantitative","scale":{"domain":[-1,5.5],"nice":false,"zero":false},"axis":null},"y":{"field":"y","type":"quantitative","scale":{"domain":[3,7.5],"nice":false,"zero":false},"axis":null}},
 "layer":[
  {"mark":{"type":"point","opacity":0},"encoding":{"x":{"field":"x","type":"quantitative","scale":{"domain":[-1,5.5],"nice":false,"zero":false},"axis":{"orient":"bottom","values":[0,2,4],"tickSize":-18,"labelPadding":37,"format":"~g","title":"NUV − g","titlePadding":8}},"y":{"field":"y","type":"quantitative","scale":{"domain":[3,7.5],"nice":false,"zero":false},"axis":{"orient":"left","values":[3,4,5,6,7],"tickSize":-18,"labels":false,"title":null}}}},
  {"mark":{"type":"point","opacity":0},"encoding":{"x":{"field":"x","type":"quantitative","scale":{"domain":[-1,5.5],"nice":false,"zero":false},"axis":{"orient":"bottom","values":[-0.5,0.5,1,1.5,2.5,3,3.5,4.5,5],"tickSize":-9,"labels":false,"title":null}},"y":{"field":"y","type":"quantitative","scale":{"domain":[3,7.5],"nice":false,"zero":false},"axis":{"orient":"left","values":[3.2,3.4,3.6,3.8,4.2,4.4,4.6,4.8,5.2,5.4,5.6,5.8,6.2,6.4,6.6,6.8,7.2,7.4],"tickSize":-9,"labels":false,"title":null}}}},
  {"mark":{"type":"point","opacity":0},"encoding":{"x":{"field":"x","type":"quantitative","scale":{"domain":[-1,5.5],"nice":false,"zero":false},"axis":{"orient":"top","values":[0,2,4],"tickSize":-18,"labels":false,"title":null}},"y":{"field":"y","type":"quantitative","scale":{"domain":[3,7.5],"nice":false,"zero":false},"axis":{"orient":"right","values":[3,4,5,6,7],"tickSize":-18,"labels":false,"title":null}}}},
  {"mark":{"type":"point","opacity":0},"encoding":{"x":{"field":"x","type":"quantitative","scale":{"domain":[-1,5.5],"nice":false,"zero":false},"axis":{"orient":"top","values":[-0.5,0.5,1,1.5,2.5,3,3.5,4.5,5],"tickSize":-9,"labels":false,"title":null}},"y":{"field":"y","type":"quantitative","scale":{"domain":[3,7.5],"nice":false,"zero":false},"axis":{"orient":"right","values":[3.2,3.4,3.6,3.8,4.2,4.4,4.6,4.8,5.2,5.4,5.6,5.8,6.2,6.4,6.6,6.8,7.2,7.4],"tickSize":-9,"labels":false,"title":null}}}},
  {"transform":[{"filter":"datum.ex>0"}],"mark":{"type":"errorbar","ticks":{"size":8},"thickness":1.8,"clip":true},"encoding":{"xError":{"field":"ex"},"color":{"field":"t","type":"nominal","scale":{"domain":["s","t","r","rp","b"],"range":["black","black","red","red","blue"]},"legend":null}}},
  {"transform":[{"filter":"datum.ey>0"}],"mark":{"type":"errorbar","ticks":{"size":8},"thickness":1.8,"clip":true},"encoding":{"yError":{"field":"ey"},"color":{"field":"t","type":"nominal","scale":{"domain":["s","t","r","rp","b"],"range":["black","black","red","red","blue"]},"legend":null}}},
  {"transform":[{"filter":"datum.a"}],"mark":{"type":"point","filled":false,"strokeWidth":1.8,"size":361,"opacity":1,"clip":true},"encoding":{"shape":{"field":"a","type":"nominal","scale":{"domain":["d","r","l"],"range":["M0,0L0,4M-0.45,2.6L0,4L0.45,2.6","M0,0L4,0M2.6,-0.45L4,0L2.6,0.45","M0,0L-4,0M-2.6,-0.45L-4,0L-2.6,0.45"]},"legend":null},"stroke":{"field":"t","type":"nominal","scale":{"domain":["s","t","r","rp","b"],"range":["black","black","red","red","blue"]},"legend":null}}},
  {"transform":[{"filter":"datum.t=='s'"}],"mark":{"type":"point","shape":"M0,-1L0.38,-0.38L1,0L0.38,0.38L0,1L-0.38,0.38L-1,0L-0.38,-0.38Z","filled":true,"color":"black","size":105,"opacity":1,"clip":true}},
  {"transform":[{"filter":"datum.t=='t'"}],"mark":{"type":"point","shape":"triangle-up","filled":true,"color":"black","size":55,"opacity":1,"clip":true}},
  {"transform":[{"filter":"datum.t=='r'||datum.t=='rp'"}],"mark":{"type":"point","shape":"circle","filled":false,"color":"red","strokeWidth":1.7,"size":135,"opacity":1,"clip":true}},
  {"transform":[{"filter":"datum.t=='rp'"}],"mark":{"type":"point","shape":"M-1,0L1,0M0,-1L0,1","filled":false,"color":"red","strokeWidth":1.3,"size":135,"opacity":1,"clip":true}},
  {"transform":[{"filter":"datum.t=='b'"}],"mark":{"type":"point","shape":"diamond","filled":false,"color":"blue","strokeWidth":1.7,"size":90,"opacity":1,"clip":true}},
  {"transform":[{"filter":"datum.t=='b'"}],"mark":{"type":"point","shape":"M-1,0L1,0M0,-1L0,1","filled":false,"color":"blue","strokeWidth":1.3,"size":60,"opacity":1,"clip":true}}
 ],
 "resolve":{"axis":{"x":"independent","y":"independent"}}
},
{"width":232,"height":348,"data":{"name":"p6"},
 "encoding":{"x":{"field":"x","type":"quantitative","scale":{"domain":[-0.4,1.5],"nice":false,"zero":false},"axis":null},"y":{"field":"y","type":"quantitative","scale":{"domain":[3,7.5],"nice":false,"zero":false},"axis":null}},
 "layer":[
  {"mark":{"type":"point","opacity":0},"encoding":{"x":{"field":"x","type":"quantitative","scale":{"domain":[-0.4,1.5],"nice":false,"zero":false},"axis":{"orient":"bottom","values":[0,0.5,1,1.5],"tickSize":-18,"labelPadding":37,"format":"~g","title":"g − r","titlePadding":8}},"y":{"field":"y","type":"quantitative","scale":{"domain":[3,7.5],"nice":false,"zero":false},"axis":{"orient":"left","values":[3,4,5,6,7],"tickSize":-18,"labels":false,"title":null}}}},
  {"mark":{"type":"point","opacity":0},"encoding":{"x":{"field":"x","type":"quantitative","scale":{"domain":[-0.4,1.5],"nice":false,"zero":false},"axis":{"orient":"bottom","values":[-0.3,-0.2,-0.1,0.1,0.2,0.3,0.4,0.6,0.7,0.8,0.9,1.1,1.2,1.3,1.4],"tickSize":-9,"labels":false,"title":null}},"y":{"field":"y","type":"quantitative","scale":{"domain":[3,7.5],"nice":false,"zero":false},"axis":{"orient":"left","values":[3.2,3.4,3.6,3.8,4.2,4.4,4.6,4.8,5.2,5.4,5.6,5.8,6.2,6.4,6.6,6.8,7.2,7.4],"tickSize":-9,"labels":false,"title":null}}}},
  {"mark":{"type":"point","opacity":0},"encoding":{"x":{"field":"x","type":"quantitative","scale":{"domain":[-0.4,1.5],"nice":false,"zero":false},"axis":{"orient":"top","values":[0,0.5,1,1.5],"tickSize":-18,"labels":false,"title":null}},"y":{"field":"y","type":"quantitative","scale":{"domain":[3,7.5],"nice":false,"zero":false},"axis":{"orient":"right","values":[3,4,5,6,7],"tickSize":-18,"labels":false,"title":null}}}},
  {"mark":{"type":"point","opacity":0},"encoding":{"x":{"field":"x","type":"quantitative","scale":{"domain":[-0.4,1.5],"nice":false,"zero":false},"axis":{"orient":"top","values":[-0.3,-0.2,-0.1,0.1,0.2,0.3,0.4,0.6,0.7,0.8,0.9,1.1,1.2,1.3,1.4],"tickSize":-9,"labels":false,"title":null}},"y":{"field":"y","type":"quantitative","scale":{"domain":[3,7.5],"nice":false,"zero":false},"axis":{"orient":"right","values":[3.2,3.4,3.6,3.8,4.2,4.4,4.6,4.8,5.2,5.4,5.6,5.8,6.2,6.4,6.6,6.8,7.2,7.4],"tickSize":-9,"labels":false,"title":null}}}},
  {"transform":[{"filter":"datum.ex>0"}],"mark":{"type":"errorbar","ticks":{"size":8},"thickness":1.8,"clip":true},"encoding":{"xError":{"field":"ex"},"color":{"field":"t","type":"nominal","scale":{"domain":["s","t","r","rp","b"],"range":["black","black","red","red","blue"]},"legend":null}}},
  {"transform":[{"filter":"datum.ey>0"}],"mark":{"type":"errorbar","ticks":{"size":8},"thickness":1.8,"clip":true},"encoding":{"yError":{"field":"ey"},"color":{"field":"t","type":"nominal","scale":{"domain":["s","t","r","rp","b"],"range":["black","black","red","red","blue"]},"legend":null}}},
  {"transform":[{"filter":"datum.a"}],"mark":{"type":"point","filled":false,"strokeWidth":1.8,"size":361,"opacity":1,"clip":true},"encoding":{"shape":{"field":"a","type":"nominal","scale":{"domain":["d","r","l"],"range":["M0,0L0,4M-0.45,2.6L0,4L0.45,2.6","M0,0L4,0M2.6,-0.45L4,0L2.6,0.45","M0,0L-4,0M-2.6,-0.45L-4,0L-2.6,0.45"]},"legend":null},"stroke":{"field":"t","type":"nominal","scale":{"domain":["s","t","r","rp","b"],"range":["black","black","red","red","blue"]},"legend":null}}},
  {"transform":[{"filter":"datum.t=='s'"}],"mark":{"type":"point","shape":"M0,-1L0.38,-0.38L1,0L0.38,0.38L0,1L-0.38,0.38L-1,0L-0.38,-0.38Z","filled":true,"color":"black","size":105,"opacity":1,"clip":true}},
  {"transform":[{"filter":"datum.t=='t'"}],"mark":{"type":"point","shape":"triangle-up","filled":true,"color":"black","size":55,"opacity":1,"clip":true}},
  {"transform":[{"filter":"datum.t=='r'||datum.t=='rp'"}],"mark":{"type":"point","shape":"circle","filled":false,"color":"red","strokeWidth":1.7,"size":135,"opacity":1,"clip":true}},
  {"transform":[{"filter":"datum.t=='rp'"}],"mark":{"type":"point","shape":"M-1,0L1,0M0,-1L0,1","filled":false,"color":"red","strokeWidth":1.3,"size":135,"opacity":1,"clip":true}},
  {"transform":[{"filter":"datum.t=='b'"}],"mark":{"type":"point","shape":"diamond","filled":false,"color":"blue","strokeWidth":1.7,"size":90,"opacity":1,"clip":true}},
  {"transform":[{"filter":"datum.t=='b'"}],"mark":{"type":"point","shape":"M-1,0L1,0M0,-1L0,1","filled":false,"color":"blue","strokeWidth":1.3,"size":60,"opacity":1,"clip":true}}
 ],
 "resolve":{"axis":{"x":"independent","y":"independent"}}
}
],
"config": {
 "view": {"stroke": "black", "strokeWidth": 2},
 "axis": {"domain": false, "grid": false, "tickColor": "black", "tickWidth": 1.8, "labelFont": "Liberation Serif", "labelFontSize": 22, "labelColor": "black", "titleFont": "Liberation Serif", "titleFontSize": 23, "titleFontWeight": "normal", "titleColor": "black", "labelFlush": false, "labelOverlap": false}
}
}
